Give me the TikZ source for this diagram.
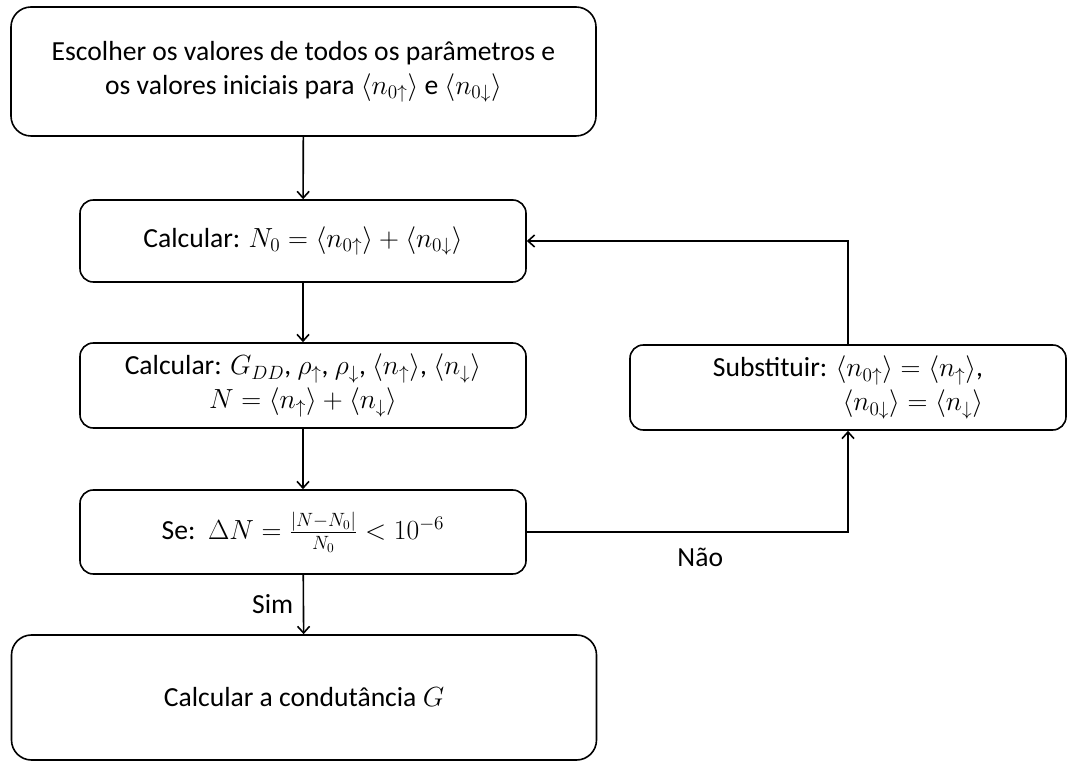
\documentclass[tikz,border=0pt]{standalone}
\usepackage{amsmath}
\usepackage{fontspec}
\setmainfont{Carlito}[Scale=1.035]
\usetikzlibrary{arrows.meta}

\begin{document}
\begin{tikzpicture}[x=0.75pt,y=-0.75pt,
  every node/.style={font=\fontsize{20}{25.5}\selectfont},
  flowbox/.style={draw,line width=1.2pt,rounded corners=10pt,align=center,inner sep=0pt},
  bigbox/.style={flowbox,rounded corners=15pt,minimum width=438.75pt},
  flow/.style={line width=1.2pt,-{Straight Barb[length=5pt,width=9pt]}}]
  \useasboundingbox (0,0) rectangle (1068,762);

  % main column
  \node[bigbox,minimum height=96.75pt] (choose) at (303.5,71.5)
    {Escolher os valores de todos os parâmetros e\\
     os valores iniciais para $\langle n_{0\uparrow}\rangle$ e $\langle n_{0\downarrow}\rangle$};
  \node[flowbox,minimum width=334.5pt,minimum height=61.5pt] (calcN0) at (303,241)
    {Calcular: $N_0=\langle n_{0\uparrow}\rangle+\langle n_{0\downarrow}\rangle$};
  \node[flowbox,minimum width=334.5pt,minimum height=63.75pt] (calcN) at (303,385.5)
    {Calcular: $G_{DD}$, $\rho_\uparrow$, $\rho_\downarrow$, $\langle n_\uparrow\rangle$, $\langle n_\downarrow\rangle$\\
     $N=\langle n_\uparrow\rangle+\langle n_\downarrow\rangle$};
  \node[flowbox,minimum width=334.5pt,minimum height=63pt] (test) at (303,532)
    {Se:\ \ $\Delta N=\frac{|N-N_0|}{N_0}<10^{-6}$};
  \node[bigbox,minimum height=93.75pt] (result) at (304,697.5)
    {Calcular a condutância $G$};

  % feedback
  \node[flowbox,align=right,minimum width=327pt,minimum height=63.75pt] (subst) at (848,387.5)
    {Substituir: $\langle n_{0\uparrow}\rangle=\langle n_\uparrow\rangle$,\\
     $\langle n_{0\downarrow}\rangle=\langle n_\downarrow\rangle$};

  \draw[flow] (choose) -- (calcN0);
  \draw[flow] (calcN0) -- (calcN);
  \draw[flow] (calcN) -- (test);
  \draw[flow] (test) -- node[left,inner sep=7pt] {Sim} (result);
  \draw[flow] (test.east) -| node[pos=0.27,below=8pt] {Não} (subst.south);
  \draw[flow] (subst.north) |- (calcN0.east);
\end{tikzpicture}
\end{document}
